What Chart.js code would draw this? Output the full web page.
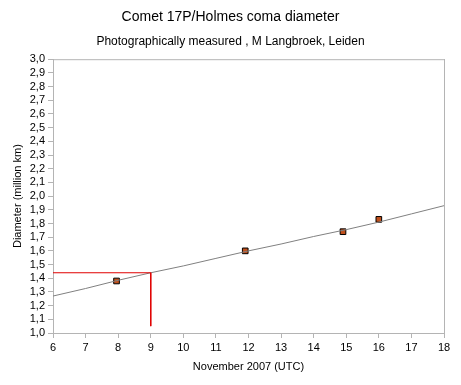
<!DOCTYPE html>
<html>
<head>
<meta charset="utf-8">
<script src="https://cdn.jsdelivr.net/npm/chart.js@4.4.0/dist/chart.umd.min.js"></script>
<style>
  html, body { margin: 0; padding: 0; background: #fff; }
  #wrap { width: 461px; height: 385px; }
</style>
</head>
<body>
<div id="wrap"><canvas id="comaChart" width="461" height="385"></canvas></div>
<script>
// measured coma diameters (day of November 2007, million km)
const measuredDays = [7.95, 11.9, 14.9, 16.0];
const measuredDiameters = [1.38, 1.60, 1.74, 1.83];

// fitted trend curve
const trendDays = [6, 7, 8, 9, 10, 11, 12, 13, 14, 15, 16, 17, 18];
const trendDiameters = [1.27, 1.325, 1.385, 1.44, 1.49, 1.545, 1.60, 1.65, 1.705, 1.755, 1.81, 1.87, 1.93];

// red guide lines marking Nov 9
const guideDays = [6, 9, 9];
const guideDiameters = [1.44, 1.44, 1.05];

const axisColor = '#b4b4b4';
const font = 'Arial, "Liberation Sans", sans-serif';

const toPoints = (xs, ys) => xs.map((x, i) => ({ x: x, y: ys[i] }));

// top edge of the plot area
const frame = {
  id: 'frame',
  afterDraw(chart) {
    const a = chart.chartArea;
    const ctx = chart.ctx;
    ctx.save();
    ctx.strokeStyle = axisColor;
    ctx.lineWidth = 1;
    ctx.beginPath();
    ctx.moveTo(a.left, a.top + 0.5);
    ctx.lineTo(a.right, a.top + 0.5);
    ctx.stroke();
    ctx.restore();
  }
};

new Chart(document.getElementById('comaChart'), {
  type: 'scatter',
  data: {
    datasets: [
      {
        label: 'guide',
        data: toPoints(guideDays, guideDiameters),
        showLine: true,
        borderColor: '#e00000',
        borderWidth: 1,
        pointRadius: 0,
        fill: false,
      },
      {
        label: 'trend',
        data: toPoints(trendDays, trendDiameters),
        showLine: true,
        borderColor: '#808080',
        borderWidth: 1,
        pointRadius: 0,
        fill: false,
      },
      {
        label: 'measured',
        data: toPoints(measuredDays, measuredDiameters),
        showLine: false,
        pointStyle: 'rect',
        pointRadius: 4,
        backgroundColor: '#c0501c',
        borderColor: '#000',
        borderWidth: 1,
      }
    ]
  },
  options: {
    responsive: false,
    animation: false,
    layout: { padding: 0 },
    plugins: {
      legend: { display: false },
      tooltip: { enabled: false },
      title: {
        display: true,
        text: 'Comet 17P/Holmes coma diameter',
        color: '#000',
        font: { family: font, size: 14, weight: 'normal' },
        padding: { top: 9, bottom: 3 }
      },
      subtitle: {
        display: true,
        text: 'Photographically measured , M Langbroek, Leiden',
        color: '#000',
        font: { family: font, size: 12, weight: 'normal' },
        padding: { top: 6, bottom: 10 }
      }
    },
    scales: {
      x: {
        type: 'linear',
        min: 6,
        max: 18,
        afterFit: s => { s.height = 52; },
        ticks: { stepSize: 1, color: '#000', font: { family: font, size: 11 }, padding: 3, maxRotation: 0 },
        grid: { drawOnChartArea: false, drawTicks: true, tickLength: 5, color: axisColor },
        border: { color: axisColor },
        title: {
          display: true,
          text: 'November 2007 (UTC)',
          color: '#000',
          font: { family: font, size: 11 },
          padding: { top: 0, bottom: 11 }
        }
      },
      y: {
        min: 1.0,
        max: 3.0,
        afterFit: s => { s.width = 53; },
        ticks: {
          stepSize: 0.1,
          autoSkip: false,
          color: '#000',
          font: { family: font, size: 11 },
          padding: 3,
          callback: v => v.toFixed(1).replace('.', ',')
        },
        grid: { drawOnChartArea: false, drawTicks: true, tickLength: 5, color: axisColor },
        border: { color: axisColor },
        title: {
          display: true,
          text: 'Diameter (million km)',
          color: '#000',
          font: { family: font, size: 11 },
          padding: { top: 11, bottom: 4 }
        }
      },
      // empty right axis: reserves the right margin and draws the right frame edge
      yRight: {
        position: 'right',
        min: 1.0,
        max: 3.0,
        afterFit: s => { s.width = 17; },
        ticks: { display: false },
        grid: { display: false },
        border: { display: true, color: axisColor }
      }
    }
  },
  plugins: [frame]
});
</script>
</body>
</html>
